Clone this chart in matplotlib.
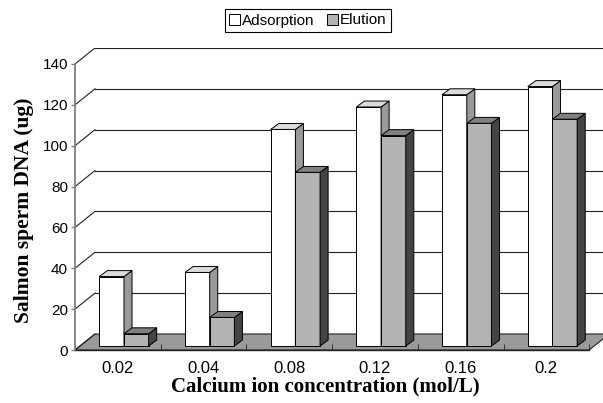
import numpy as np
import matplotlib.pyplot as plt
from matplotlib.patches import Polygon, Rectangle, Patch

# data
conc = ['0.02', '0.04', '0.08', '0.12', '0.16', '0.2']
adsorption = [34, 36, 106, 117, 123, 127]
elution = [6, 14, 85, 103, 109, 111]

# fake 3d look (Excel style): depth offsets in data units
DX = 0.233      # full depth, x
DY = 7.83       # full depth, y
bw = 0.288      # bar width
sdx = 0.094     # bar side depth
sdy = 2.9
base = 0.25 * DY
x_off = 0.2835

fig = plt.figure(figsize=(6.03, 4.03), dpi=100)
ax = fig.add_axes([75/603, 53/403, 528/603, 302/403])
ax.set_xlim(0, 528/85.7)
ax.set_ylim(0, 302/2.043)

n = len(conc)

# floor
floor = Polygon([(0, 0), (n, 0), (n+DX, DY), (DX, DY)], closed=True,
                facecolor='#9a9a9a', edgecolor='#222222', lw=0.8, zorder=1)
ax.add_patch(floor)

# walls / gridlines
for v in range(0, 141, 20):
    ax.plot([0, DX], [v, v+DY], color='#222222', lw=0.8, zorder=2)
    if v > 0:
        ax.plot([DX, n+DX+1], [v+DY, v+DY], color='#222222', lw=0.8, zorder=2)


def bar3d(x0, h, front, side, top):
    ax.add_patch(Rectangle((x0, base), bw, h, facecolor=front,
                           edgecolor='black', lw=0.7, zorder=5))
    ax.add_patch(Polygon([(x0+bw, base), (x0+bw+sdx, base+sdy),
                          (x0+bw+sdx, base+h+sdy), (x0+bw, base+h)],
                         closed=True, facecolor=side, edgecolor='black',
                         lw=0.7, zorder=5))
    ax.add_patch(Polygon([(x0, base+h), (x0+bw, base+h),
                          (x0+bw+sdx, base+h+sdy), (x0+sdx, base+h+sdy)],
                         closed=True, facecolor=top, edgecolor='black',
                         lw=0.7, zorder=5))


for i in range(n):
    bar3d(i + x_off, adsorption[i], 'white', '#9a9a9a', '#dcdcdc')
    bar3d(i + x_off + bw, elution[i], '#b4b4b4', '#444444', '#808080')

# axes
for s in ['top', 'right']:
    ax.spines[s].set_visible(False)
ax.spines['left'].set_bounds(0, 140)
ax.spines['left'].set_color('#808080')
ax.spines['left'].set_linewidth(1.3)
ax.spines['bottom'].set_bounds(0, n)
ax.spines['bottom'].set_color('#222222')
ax.spines['bottom'].set_linewidth(1.0)
ax.spines['left'].set_zorder(6)

ax.set_yticks(range(0, 141, 20))
ax.tick_params(axis='y', length=3, width=1, color='#808080', pad=2,
               labelsize=11)
ax.set_xticks(np.arange(n) + 0.5)
ax.set_xticklabels(conc)
ax.set_xticks(np.arange(n + 1), minor=True)
ax.tick_params(axis='x', which='major', length=0, pad=8, labelsize=12)
ax.tick_params(axis='x', which='minor', length=4, direction='in',
               color='#222222')
for lab in ax.get_xticklabels() + ax.get_yticklabels():
    lab.set_family('Liberation Sans')

fig.text(325/603, 1-386/403, 'Calcium ion concentration (mol/L)',
         ha='center', va='center', family='Liberation Serif',
         weight='bold', fontsize=15)
fig.text(24/603, 1-210/403, 'Salmon sperm DNA (ug)', rotation=90,
         ha='center', va='center', family='Liberation Serif',
         weight='bold', fontsize=15.5)

handles = [Patch(facecolor='white', edgecolor='black', lw=0.7),
           Patch(facecolor='#b4b4b4', edgecolor='black', lw=0.7)]
leg = fig.legend(handles, ['Adsorption', 'Elution'], loc='center',
                 bbox_to_anchor=(308/603, 1-20.5/403), ncol=2,
                 fancybox=False, edgecolor='black', framealpha=1,
                 handlelength=0.7, handleheight=0.7, handletextpad=0.15,
                 columnspacing=0.8, borderpad=0.3, borderaxespad=0,
                 prop={'family': 'Liberation Sans', 'size': 11})
leg.get_frame().set_linewidth(0.8)

fig.savefig('out.png', dpi=100)
